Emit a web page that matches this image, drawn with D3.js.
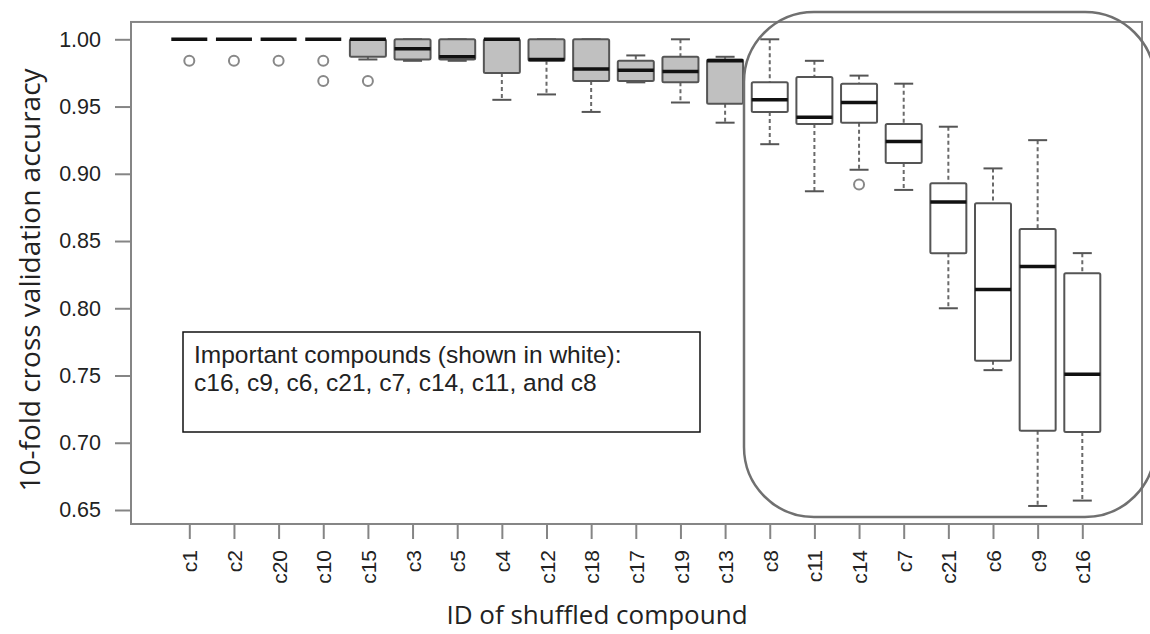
<!DOCTYPE html>
<html>
<head>
<meta charset="utf-8">
<script src="https://cdn.jsdelivr.net/npm/d3@7"></script>
<style>
  body { margin: 0; background: #fff; }
  svg { display: block; }
</style>
</head>
<body>
<svg id="chart" width="1150" height="634"></svg>
<script>
// compounds in plotting order
const categories = ["c1", "c2", "c20", "c10", "c15", "c3", "c5", "c4", "c12", "c18", "c17",
    "c19", "c13", "c8", "c11", "c14", "c7", "c21", "c6", "c9", "c16"];
// important compounds are drawn in white
const important = ["c16", "c9", "c6", "c21", "c7", "c14", "c11", "c8"];

// box statistics
const whiskerLow = [1, 1, 1, 1, 0.985, 0.984, 0.984, 0.955, 0.959, 0.946, 0.968,
    0.953, 0.938, 0.922, 0.887, 0.903, 0.888, 0.800, 0.754, 0.653, 0.657];
const q1 = [1, 1, 1, 1, 0.987, 0.985, 0.985, 0.975, 0.984, 0.969, 0.969,
    0.968, 0.952, 0.946, 0.937, 0.938, 0.908, 0.841, 0.761, 0.709, 0.708];
const median = [1, 1, 1, 1, 1.0, 0.993, 0.987, 1.0, 0.985, 0.978, 0.977,
    0.976, 0.984, 0.955, 0.942, 0.953, 0.924, 0.879, 0.814, 0.831, 0.751];
const q3 = [1, 1, 1, 1, 1.0, 1.0, 1.0, 1.0, 1.0, 1.0, 0.984,
    0.987, 0.985, 0.968, 0.972, 0.967, 0.937, 0.893, 0.878, 0.859, 0.826];
const whiskerHigh = [1, 1, 1, 1, 1.0, 1.0, 1.0, 1.0, 1.0, 1.0, 0.988,
    1.0, 0.987, 1.0, 0.984, 0.973, 0.967, 0.935, 0.904, 0.925, 0.841];
const outliers = [[0.984], [0.984], [0.984], [0.984, 0.969], [0.969], [], [], [], [], [], [],
    [], [], [], [], [0.892], [], [], [], [], []];

const yTicks = [0.65, 0.70, 0.75, 0.80, 0.85, 0.90, 0.95, 1.00];

const svg = d3.select("#chart");

const x = d3.scalePoint()
    .domain(categories)
    .range([189.3, 1082.3]);

const y = d3.scaleLinear()
    .domain([0.65, 1.0])
    .range([510, 39.3]);

const frame = { left: 131, right: 1142, top: y(1.0129), bottom: y(0.6396) };

const boxes = categories.map((c, i) => ({
    id: c,
    lo: whiskerLow[i], q1: q1[i], med: median[i], q3: q3[i], hi: whiskerHigh[i],
    out: outliers[i],
    fill: important.includes(c) ? "#ffffff" : "#c0c0c0"
}));

const boxW = 36;
const capW = 19;

// boxes, whiskers, outliers
const g = svg.append("g");
boxes.forEach(d => {
    const cx = x(d.id);
    const bg = g.append("g");
    if (d.hi > d.q3) {
        bg.append("line").attr("x1", cx).attr("x2", cx)
            .attr("y1", y(d.hi)).attr("y2", y(d.q3))
            .attr("stroke", "#6a6a6a").attr("stroke-width", 2).attr("stroke-dasharray", "4,3");
    }
    if (d.lo < d.q1) {
        bg.append("line").attr("x1", cx).attr("x2", cx)
            .attr("y1", y(d.q1)).attr("y2", y(d.lo))
            .attr("stroke", "#6a6a6a").attr("stroke-width", 2).attr("stroke-dasharray", "4,3");
    }
    if (d.q3 > d.q1) {
        [d.hi, d.lo].forEach(v => {
            bg.append("line").attr("x1", cx - capW / 2).attr("x2", cx + capW / 2)
                .attr("y1", y(v)).attr("y2", y(v))
                .attr("stroke", "#555").attr("stroke-width", 2);
        });
        bg.append("rect")
            .attr("x", cx - boxW / 2).attr("y", y(d.q3))
            .attr("width", boxW).attr("height", y(d.q1) - y(d.q3))
            .attr("rx", 1.5)
            .attr("fill", d.fill).attr("stroke", "#555").attr("stroke-width", 2);
    }
    bg.append("line").attr("x1", cx - boxW / 2).attr("x2", cx + boxW / 2)
        .attr("y1", y(d.med)).attr("y2", y(d.med))
        .attr("stroke", "#111").attr("stroke-width", 3.5);
    d.out.forEach(v => {
        bg.append("circle").attr("cx", cx).attr("cy", y(v)).attr("r", 5)
            .attr("fill", "none").attr("stroke", "#888").attr("stroke-width", 2);
    });
});

// frame
svg.append("rect")
    .attr("x", frame.left).attr("y", frame.top)
    .attr("width", frame.right - frame.left).attr("height", frame.bottom - frame.top)
    .attr("fill", "none").attr("stroke", "#858585").attr("stroke-width", 2);

// y axis
const yAxis = svg.append("g")
    .attr("transform", `translate(${frame.left},0)`)
    .call(d3.axisLeft(y).tickValues(yTicks).tickFormat(d3.format(".2f")).tickSize(16).tickPadding(14));
yAxis.select(".domain").remove();
yAxis.selectAll("line").attr("stroke", "#858585").attr("stroke-width", 2);
yAxis.selectAll("text")
    .attr("fill", "#222")
    .style("font-family", "'Liberation Sans', Arial, sans-serif")
    .style("font-size", "21.5px");

// x axis
const xAxis = svg.append("g")
    .attr("transform", `translate(0,${frame.bottom})`)
    .call(d3.axisBottom(x).tickSize(15).tickPadding(12));
xAxis.select(".domain").remove();
xAxis.selectAll("line").attr("stroke", "#858585").attr("stroke-width", 2);
xAxis.selectAll("text")
    .attr("fill", "#222")
    .style("font-family", "'Liberation Sans', Arial, sans-serif")
    .style("font-size", "21px")
    .attr("transform", "rotate(-90)")
    .attr("text-anchor", "end")
    .attr("x", -26)
    .attr("y", 0)
    .attr("dy", "0.36em");

// axis titles
svg.append("text")
    .attr("transform", "translate(40,280) rotate(-90)")
    .attr("text-anchor", "middle")
    .attr("fill", "#222")
    .style("font-family", "'Open Sans', sans-serif")
    .style("font-size", "28px")
    .text("10-fold cross validation accuracy");

svg.append("text")
    .attr("x", 597)
    .attr("y", 624)
    .attr("text-anchor", "middle")
    .attr("fill", "#222")
    .style("font-family", "'Open Sans', sans-serif")
    .style("font-size", "26px")
    .text("ID of shuffled compound");

// note box
svg.append("rect")
    .attr("x", 183).attr("y", 332).attr("width", 517).attr("height", 100)
    .attr("fill", "#fff").attr("stroke", "#111").attr("stroke-width", 1.5);

const note = svg.append("text")
    .attr("fill", "#222")
    .style("font-family", "'Liberation Sans', Arial, sans-serif")
    .style("font-size", "24.5px");
note.append("tspan").attr("x", 194).attr("y", 363).text("Important compounds (shown in white):");
note.append("tspan").attr("x", 194).attr("y", 391).text("c16, c9, c6, c21, c7, c14, c11, and c8");

// highlight around the important compounds
svg.append("rect")
    .attr("x", 744).attr("y", 12).attr("width", 411).attr("height", 505)
    .attr("rx", 70).attr("ry", 70)
    .attr("fill", "none").attr("stroke", "#707070").attr("stroke-width", 2.5);
</script>
</body>
</html>
